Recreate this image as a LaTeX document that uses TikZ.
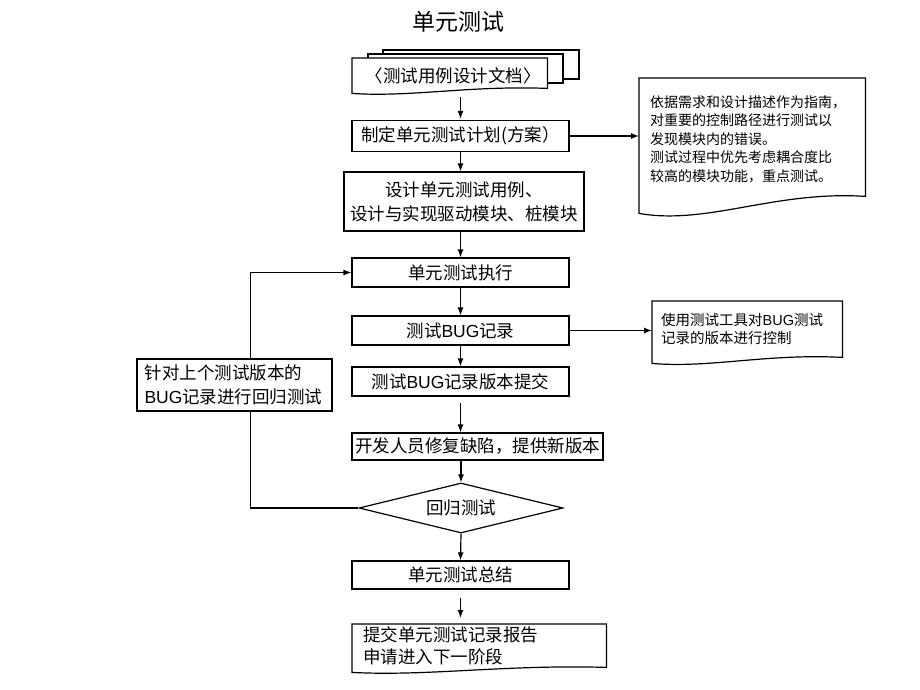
\documentclass[tikz,border=0pt]{standalone}
\usepackage{fontspec}
\setmainfont{Noto Sans CJK SC}
\newfontfamily\latinfont{Liberation Sans}
\usetikzlibrary{arrows.meta,calc,shapes.geometric}
\newcommand{\bug}{{\latinfont BUG}}
\tikzset{
  flowbox/.style={draw,line width=1.2pt,fill=white,inner sep=0pt,minimum width=217pt,minimum height=29pt,
    font=\fontsize{17.5pt}{24pt}\selectfont},
  docframe/.style={inner sep=0pt,anchor=north west},
  doctext/.style={inner sep=0pt,anchor=west,align=left},
  docline/.style={line width=1.2pt,fill=white},
  flowarrow/.style={line width=1.2pt,-{Latex[length=8pt,width=6pt]}},
}

\begin{document}
\begin{tikzpicture}[x=1pt,y=-1pt]
\useasboundingbox (0,0) rectangle (920,690);

\node[font=\fontsize{23pt}{27pt}\selectfont] (title) at (458,22) {单元测试};

\node[docframe,minimum width=195pt,minimum height=35pt] (spec) at (352,58) {};
\draw[docline] (383,50) rectangle (579,79);
\draw[docline] (368,54) rectangle (563,83);
\draw[docline] (spec.south west) -- (spec.north west) -- (spec.north east) -- ([yshift=5pt]spec.south east)
  .. controls ($(spec.south west)!.6!(spec.south east)+(0,-8)$) and ($(spec.south west)!.3!(spec.south east)+(0,4)$) .. (spec.south west) -- cycle;
\node[font=\fontsize{17.5pt}{21pt}\selectfont] (spectxt) at (453,76) {〈测试用例设计文档〉};

\node[flowbox,minimum height=31pt] (plan) at (460.5,136) {制定单元测试计划(方案）};
\node[flowbox,minimum width=240pt,minimum height=59pt,align=center] (design) at (464,201.5) {设计单元测试用例、\\设计与实现驱动模块、桩模块};
\node[flowbox] (exec) at (460.5,272.5) {单元测试执行};
\node[flowbox] (bug) at (460.5,330.5) {测试\bug 记录};
\node[flowbox] (submit) at (460.5,381.5) {测试\bug 记录版本提交};
\node[flowbox,minimum width=251pt,minimum height=27pt] (dev) at (477.5,446.5) {开发人员修复缺陷，提供新版本};
\node[draw,diamond,aspect=4,minimum width=204pt,minimum height=50pt,inner sep=0pt,line width=1.2pt,
  font=\fontsize{17.5pt}{21pt}\selectfont] (check) at (461,508) {回归测试};
\node[flowbox,minimum height=28pt] (summary) at (460.5,575) {单元测试总结};

\node[docframe,minimum width=226pt,minimum height=135pt] (guide) at (639,78) {};
\draw[docline] (guide.south west) -- (guide.north west) -- (guide.north east) -- ([yshift=17pt]guide.south east)
  .. controls ($(guide.south west)!.6!(guide.south east)+(0,-23)$) and ($(guide.south west)!.3!(guide.south east)+(0,12)$) .. (guide.south west) -- cycle;
\node[doctext,font=\fontsize{14pt}{18.5pt}\selectfont] (guidetxt) at (650,139)
  {依据需求和设计描述作为指南，\\对重要的控制路径进行测试以\\发现模块内的错误。\\测试过程中优先考虑耦合度比\\较高的模块功能，重点测试。};

\node[docframe,minimum width=190pt,minimum height=62pt] (bugnote) at (652,301) {};
\draw[docline] (bugnote.south west) -- (bugnote.north west) -- (bugnote.north east) -- ([yshift=6pt]bugnote.south east)
  .. controls ($(bugnote.south west)!.6!(bugnote.south east)+(0,-10)$) and ($(bugnote.south west)!.3!(bugnote.south east)+(0,5)$) .. (bugnote.south west) -- cycle;
\node[doctext,font=\fontsize{14.5pt}{18pt}\selectfont] (bugnotetxt) at (661,329) {使用测试工具对\bug 测试\\记录的版本进行控制};

\node[docframe,minimum width=254pt,minimum height=48pt] (final) at (352,624) {};
\draw[docline] (final.south west) -- (final.north west) -- (final.north east) -- ([yshift=5pt]final.south east)
  .. controls ($(final.south west)!.6!(final.south east)+(0,-8)$) and ($(final.south west)!.3!(final.south east)+(0,4)$) .. (final.south west) -- cycle;
\node[doctext,font=\fontsize{17.5pt}{22pt}\selectfont] (finaltxt) at (363,646) {提交单元测试记录报告\\申请进入下一阶段};

\draw[flowarrow,shorten <=4pt,shorten >=1pt] (plan.north |- spec.south) -- (plan.north);
\draw[flowarrow] (plan.south) -- (plan.south |- design.north);
\draw[flowarrow] (design.south -| exec.north) -- (exec.north);
\draw[flowarrow] (exec.south) -- (bug.north);
\draw[flowarrow] (bug.south) -- (submit.north);
\draw[flowarrow,shorten <=6pt] (submit.south) -- (submit.south |- dev.north);
\draw[flowarrow] (dev.south -| check.north) -- (check.north);
\draw[flowarrow] (check.south) -- (summary.north);
\draw[flowarrow,shorten <=8pt,shorten >=6pt] (summary.south) -- (summary.south |- final.north);
\draw[flowarrow] (plan.east) -- (plan.east -| guide.west);
\draw[flowarrow] (bug.east) -- (bug.east -| bugnote.west);
\draw[flowarrow] (check.west) -- ++(-108,0) |- (exec.west);

\node[flowbox,minimum width=195pt,minimum height=52pt,text width=180pt,align=left] (side) at (234.5,385)
  {针对上个测试版本的\\\bug 记录进行回归测试};

\end{tikzpicture}
\end{document}
